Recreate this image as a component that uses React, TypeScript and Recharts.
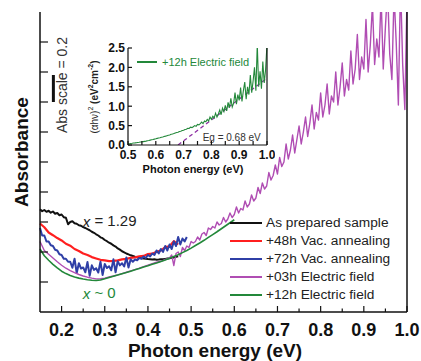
import { Label, Legend, Line, LineChart, ReferenceDot, ReferenceLine, XAxis, YAxis } from 'recharts'

const FONT = '"Liberation Sans", Arial, Helvetica, sans-serif'

// absorbance spectra (arbitrary absorbance units, 0.2 per tick)
const asPrepared = [
  0.685, 0.672, 0.68, 0.668, 0.675, 0.662, 0.67, 0.655, 0.66, 0.645, 0.65, 0.632, 0.628, 0.585, 0.6, 0.605,
  0.592, 0.588, 0.578, 0.575, 0.566, 0.56, 0.552, 0.545, 0.535, 0.528, 0.518, 0.51, 0.498, 0.492, 0.48,
  0.472, 0.462, 0.455, 0.444, 0.436, 0.424, 0.416, 0.405, 0.398, 0.39, 0.384, 0.378, 0.373, 0.368, 0.364,
  0.362, 0.358, 0.357, 0.355, 0.353, 0.352, 0.35, 0.351, 0.349, 0.35, 0.352, 0.351, 0.354, 0.356, 0.358,
  0.361, 0.364, 0.368, 0.372,
] // 0.15 .. 0.47, step 0.005

const vac48 = [
  0.59, 0.565, 0.53, 0.512, 0.493, 0.477, 0.455, 0.442, 0.42, 0.407, 0.39, 0.38, 0.366, 0.357, 0.348, 0.344,
  0.339, 0.341, 0.344, 0.351, 0.354, 0.361, 0.364, 0.371, 0.374, 0.386, 0.389, 0.401, 0.41, 0.432, 0.438,
  0.472, 0.45,
] // 0.15 .. 0.47, step 0.01

const vac72 = [
  0.56, 0.51, 0.51, 0.47, 0.47, 0.445, 0.44, 0.415, 0.41, 0.385, 0.38, 0.355, 0.355, 0.335, 0.335, 0.295,
  0.355, 0.26, 0.325, 0.29, 0.297, 0.265, 0.333, 0.242, 0.311, 0.281, 0.292, 0.263, 0.335, 0.247, 0.32,
  0.293, 0.305, 0.278, 0.351, 0.265, 0.338, 0.311, 0.325, 0.304, 0.363, 0.297, 0.351, 0.335, 0.35, 0.345,
  0.36, 0.355, 0.37, 0.36, 0.38, 0.37, 0.39, 0.38, 0.41, 0.39, 0.42, 0.4, 0.44, 0.41, 0.45, 0.42, 0.47,
  0.44, 0.5, 0.45, 0.49, 0.47, 0.5,
] // 0.15 .. 0.49, step 0.005

const field03Low = [
  0.47, 0.41, 0.385, 0.36, 0.335, 0.312, 0.292, 0.276, 0.262, 0.25, 0.24, 0.232, 0.226, 0.221, 0.222, 0.226,
  0.233, 0.24, 0.248, 0.256, 0.265, 0.274, 0.283, 0.292, 0.302, 0.312, 0.322, 0.332, 0.338, 0.35,
] // 0.15 .. 0.44, step 0.01

const field03High = [
  0.36, 0.38, 0.31, 0.39, 0.4, 0.37, 0.43, 0.41, 0.44, 0.43, // 0.45 ..
  0.47, 0.46, 0.47, 0.5, 0.48, 0.52, 0.53, 0.51, 0.56, 0.55, // 0.50 ..
  0.57, 0.56, 0.6, 0.58, 0.59, 0.63, 0.6, 0.62, 0.66, 0.63, // 0.55 ..
  0.65, 0.7, 0.66, 0.69, 0.68, 0.74, 0.7, 0.72, 0.78, 0.74, // 0.60 ..
  0.76, 0.83, 0.79, 0.86, 0.82, 0.84, 0.93, 0.88, 0.91, 0.98, // 0.65 ..
  0.92, 1.03, 0.97, 1.0, 1.12, 1.02, 1.08, 1.18, 1.06, 1.15, // 0.70 ..
  1.24, 1.12, 1.2, 1.3, 1.17, 1.26, 1.38, 1.22, 1.33, 1.28, // 0.75 ..
  1.46, 1.3, 1.38, 1.52, 1.32, 1.44, 1.4, 1.6, 1.38, 1.5, // 0.80 ..
  1.66, 1.44, 1.55, 1.48, 1.74, 1.52, 1.62, 1.85, 1.55, 1.7, // 0.85 ..
  1.62, 1.95, 1.6, 1.78, 2.05, 1.65, 1.82, 1.7, 2.1, 1.62, // 0.90 ..
  1.9, 2.15, 1.72, 1.55, 2.12, 1.8, 1.38, 2.2, 1.65, 1.35, // 0.95 ..
  2.1, // 1.00
] // step 0.005

const field12 = [
  0.42, 0.375, 0.345, 0.318, 0.294, 0.272, 0.256, 0.243, 0.233, 0.226, 0.22, 0.215, 0.212, 0.21, 0.213,
  0.222, 0.23, 0.238, 0.246, 0.255, 0.263, 0.272, 0.281, 0.29, 0.3, 0.308, 0.318, 0.327, 0.337, 0.347,
  0.358, 0.37, 0.382, 0.396, 0.41, 0.426, 0.443, 0.46, 0.478, 0.497, 0.516, 0.535, 0.555, 0.575, 0.595,
  0.615,
] // 0.15 .. 0.60, step 0.01

// inset: (alpha h nu)^2 for +12h electric field, 0.5 .. 1.0 eV, step 0.005
const tauc12 = [
  0.03, 0.034, 0.04, 0.044, 0.05, 0.054, 0.06, 0.066, 0.07, 0.076, // 0.50 ..
  0.08, 0.088, 0.094, 0.1, 0.11, 0.116, 0.125, 0.134, 0.142, 0.152, // 0.55 ..
  0.16, 0.17, 0.18, 0.188, 0.2, 0.208, 0.22, 0.228, 0.24, 0.252, // 0.60 ..
  0.26, 0.275, 0.285, 0.296, 0.31, 0.322, 0.33, 0.35, 0.356, 0.372, // 0.65 ..
  0.38, 0.4, 0.405, 0.43, 0.425, 0.46, 0.45, 0.47, 0.5, 0.48, // 0.70 ..
  0.53, 0.52, 0.55, 0.59, 0.55, 0.62, 0.6, 0.66, 0.62, 0.72, // 0.75 ..
  0.66, 0.74, 0.7, 0.82, 0.72, 0.8, 0.9, 0.78, 0.95, 0.86, // 0.80 ..
  1.02, 0.88, 1.1, 0.96, 1.2, 0.98, 1.08, 1.35, 1.05, 1.3, // 0.85 ..
  1.15, 1.48, 1.12, 1.4, 1.62, 1.18, 1.5, 1.3, 1.8, 1.35, // 0.90 ..
  1.65, 2.0, 1.4, 2.6, 1.5, 1.9, 1.45, 2.15, 1.6, 1.95, // 0.95 ..
  2.6, // 1.00
]
const taucFitE = [0.68, 1.0]
const taucFitV = [0, 1.72]

const xTicks = [0.2, 0.25, 0.3, 0.35, 0.4, 0.45, 0.5, 0.55, 0.6, 0.65, 0.7, 0.75, 0.8, 0.85, 0.9, 0.95, 1.0]
const yTicks = [0.2, 0.4, 0.6, 0.8, 1.0, 1.2, 1.4, 1.6, 1.8]
const insetXTicks = [0.5, 0.55, 0.6, 0.65, 0.7, 0.75, 0.8, 0.85, 0.9, 0.95, 1.0]
const insetYTicks = [0, 0.5, 1.0, 1.5, 2.0, 2.5]

const toPts = (start: number, step: number, ys: number[]) =>
  ys.map((v, i) => ({ e: +(start + i * step).toFixed(3), v }))

const series = [
  { name: 'As prepared sample', color: '#111111', width: 2, data: toPts(0.15, 0.005, asPrepared) },
  { name: '+48h Vac. annealing', color: '#ff1f1f', width: 2.2, data: toPts(0.15, 0.01, vac48) },
  { name: '+72h Vac. annealing', color: '#2f3fa6', width: 2, data: toPts(0.15, 0.005, vac72) },
  {
    name: '+03h Electric field',
    color: '#b04db3',
    width: 1.4,
    data: [...toPts(0.15, 0.01, field03Low), ...toPts(0.45, 0.005, field03High)],
  },
  { name: '+12h Electric field', color: '#23883a', width: 1.6, data: toPts(0.15, 0.01, field12) },
]

const insetData = toPts(0.5, 0.005, tauc12)
const fitData = taucFitE.map((e, i) => ({ e, v: taucFitV[i] }))

const isMajor = (v: number, unit: number) => Math.abs(v / unit - Math.round(v / unit)) < 1e-6

function XTick({ x, y, payload, unit, dir, major, minor, size, dy }: any) {
  const v = payload.value
  const big = isMajor(v, unit)
  return (
    <g>
      <line x1={x} x2={x} y1={y} y2={y + dir * (big ? major : minor)} stroke="#111" strokeWidth={1.2} />
      {size && big ? (
        <text x={x} y={y + dy} textAnchor="middle" fontFamily={FONT} fontSize={size} fontWeight="bold" fill="#111">
          {v.toFixed(1)}
        </text>
      ) : null}
    </g>
  )
}

function YTick({ x, y, payload, dir, len, size, dx }: any) {
  return (
    <g>
      <line x1={x} x2={x + dir * len} y1={y} y2={y} stroke="#111" strokeWidth={1.2} />
      {size ? (
        <text x={x - dx} y={y + size * 0.36} textAnchor="end" fontFamily={FONT} fontSize={size} fontWeight="bold" fill="#111">
          {payload.value.toFixed(1)}
        </text>
      ) : null}
    </g>
  )
}

const note = (render: (x: number, y: number) => any) => ({ viewBox }: any) => render(viewBox.x, viewBox.y)

function MainLegend() {
  return (
    <div style={{ fontFamily: FONT, fontSize: 13.7, color: '#222', lineHeight: '18px' }}>
      {series.map((s) => (
        <div key={s.name} style={{ display: 'flex', alignItems: 'center', height: 18 }}>
          <div style={{ width: 32, height: 1.5, background: s.color, marginRight: 4 }} />
          <span>{s.name}</span>
        </div>
      ))}
    </div>
  )
}

function InsetLegend() {
  return (
    <div style={{ display: 'flex', alignItems: 'center', fontFamily: FONT, fontSize: 11, color: '#23883a' }}>
      <div style={{ width: 20, height: 1.3, background: '#23883a', marginRight: 5 }} />
      <span>+12h Electric field</span>
    </div>
  )
}

const axisStroke = { stroke: '#111', strokeWidth: 1.5 }

export default function App() {
  return (
    <div style={{ position: 'relative', width: 421, height: 361, background: '#fff' }}>
      <style>{'body{margin:0}'}</style>
      <LineChart width={421} height={361} margin={{ top: 12, right: 0, bottom: 0, left: 0 }}>
        <XAxis
          xAxisId="b"
          dataKey="e"
          type="number"
          domain={[0.15, 1.0]}
          ticks={xTicks}
          interval={0}
          height={49}
          tickSize={0}
          tickMargin={0}
          tickLine={false}
          axisLine={axisStroke}
          tick={<XTick unit={0.1} dir={-1} major={6} minor={3.5} size={18} dy={24} />}
        >
          <Label
            content={note((x, y) => (
              <text x={x + 175} y={y + 44.5} textAnchor="middle" fontFamily={FONT} fontSize={19} fontWeight="bold" fill="#111">
                Photon energy (eV)
              </text>
            ))}
          />
        </XAxis>
        <XAxis
          xAxisId="t"
          orientation="top"
          dataKey="e"
          type="number"
          domain={[0.15, 1.0]}
          ticks={xTicks}
          interval={0}
          height={0}
          tickSize={0}
          tickMargin={0}
          tickLine={false}
          axisLine={axisStroke}
          tick={<XTick unit={0.1} dir={1} major={6} minor={4} />}
        />
        <YAxis
          yAxisId="l"
          type="number"
          domain={[0, 2]}
          allowDataOverflow
          ticks={yTicks}
          interval={0}
          width={40}
          tickSize={0}
          tickMargin={0}
          tickLine={false}
          axisLine={axisStroke}
          tick={<YTick dir={1} len={8} />}
        >
          <Label
            content={() => (
              <text
                x={21}
                y={152}
                transform="rotate(-90 21 152)"
                textAnchor="middle"
                dominantBaseline="central"
                fontFamily={FONT}
                fontSize={19}
                fontWeight="bold"
                fill="#111"
              >
                Absorbance
              </text>
            )}
          />
        </YAxis>
        <YAxis
          yAxisId="r"
          orientation="right"
          type="number"
          domain={[0, 2]}
          ticks={yTicks}
          interval={0}
          width={14}
          tickSize={0}
          tickMargin={0}
          tickLine={false}
          axisLine={axisStroke}
          tick={<YTick dir={-1} len={8} />}
        />

        {series.map((s) => (
          <Line
            key={s.name}
            xAxisId="b"
            yAxisId="l"
            data={s.data}
            dataKey="v"
            name={s.name}
            type="linear"
            dot={false}
            stroke={s.color}
            strokeWidth={s.width}
            strokeLinejoin="round"
            isAnimationActive={false}
          />
        ))}

        <ReferenceLine
          xAxisId="b"
          yAxisId="l"
          segment={[{ x: 0.181, y: 1.4 }, { x: 0.181, y: 1.58 }]}
          stroke="#111"
          strokeWidth={3}
        />
        <ReferenceDot
          xAxisId="b"
          yAxisId="l"
          x={0.201}
          y={1.513}
          r={0}
          fill="none"
          stroke="none"
          label={note((x, y) => (
            <text
              x={x}
              y={y}
              transform={`rotate(-90 ${x} ${y})`}
              textAnchor="middle"
              dominantBaseline="central"
              fontFamily={FONT}
              fontSize={14}
              fill="#333"
            >
              Abs scale = 0.2
            </text>
          ))}
        />
        <ReferenceDot
          xAxisId="b"
          yAxisId="l"
          x={0.249}
          y={0.607}
          r={0}
          fill="none"
          stroke="none"
          label={note((x, y) => (
            <text x={x} y={y} dominantBaseline="central" fontFamily={FONT} fontSize={15} fill="#222">
              <tspan fontStyle="italic">x</tspan> = 1.29
            </text>
          ))}
        />
        <ReferenceDot
          xAxisId="b"
          yAxisId="l"
          x={0.249}
          y={0.127}
          r={0}
          fill="none"
          stroke="none"
          label={note((x, y) => (
            <text x={x} y={y} dominantBaseline="central" fontFamily={FONT} fontSize={15} fill="#23883a">
              <tspan fontStyle="italic">x</tspan> ~ 0
            </text>
          ))}
        />
        <Legend
          layout="vertical"
          align="center"
          verticalAlign="middle"
          wrapperStyle={{ left: 230, top: 214, width: 'auto' }}
          content={() => <MainLegend />}
        />
      </LineChart>

      <div style={{ position: 'absolute', left: 80, top: 40 }}>
        <LineChart width={195} height={145} margin={{ top: 8, right: 0, bottom: 0, left: 0 }}>
          <XAxis
            xAxisId="b"
            dataKey="e"
            type="number"
            domain={[0.5, 1.0]}
            ticks={insetXTicks}
            interval={0}
            height={40}
            tickSize={0}
            tickMargin={0}
            tickLine={false}
            axisLine={{ stroke: '#111', strokeWidth: 1.2 }}
            tick={<XTick unit={0.1} dir={-1} major={4} minor={4} size={12} dy={14} />}
          >
            <Label
              content={note((x, y) => (
                <text x={x + 65} y={y + 28} textAnchor="middle" fontFamily={FONT} fontSize={11} fontWeight="bold" fill="#111">
                  Photon energy (eV)
                </text>
              ))}
            />
          </XAxis>
          <XAxis
            xAxisId="t"
            orientation="top"
            dataKey="e"
            type="number"
            domain={[0.5, 1.0]}
            ticks={insetXTicks}
            interval={0}
            height={0}
            tickSize={0}
            tickMargin={0}
            tickLine={false}
            axisLine={{ stroke: '#111', strokeWidth: 1.2 }}
            tick={<XTick unit={0.1} dir={1} major={4} minor={4} />}
          />
          <YAxis
            yAxisId="l"
            type="number"
            domain={[0, 2.5]}
            allowDataOverflow
            ticks={insetYTicks}
            interval={0}
            width={48}
            tickSize={0}
            tickMargin={0}
            tickLine={false}
            axisLine={{ stroke: '#111', strokeWidth: 1.2 }}
            tick={<YTick dir={1} len={4} size={12} dx={3} />}
          >
            <Label
              content={() => (
                <text
                  x={14}
                  y={57}
                  transform="rotate(-90 14 57)"
                  textAnchor="middle"
                  dominantBaseline="central"
                  fontFamily={FONT}
                  fontSize={10}
                  fill="#222"
                >
                  (αhν)<tspan fontSize={7} dy={-4}>2</tspan>
                  <tspan dy={4} fontWeight="bold"> (eV</tspan>
                  <tspan fontSize={7} dy={-4} fontWeight="bold">2</tspan>
                  <tspan dy={4} fontWeight="bold">cm</tspan>
                  <tspan fontSize={7} dy={-4} fontWeight="bold">-2</tspan>
                  <tspan dy={4} fontWeight="bold">)</tspan>
                </text>
              )}
            />
          </YAxis>
          <YAxis
            yAxisId="r"
            orientation="right"
            type="number"
            domain={[0, 2.5]}
            ticks={insetYTicks}
            interval={0}
            width={8}
            tickSize={0}
            tickMargin={0}
            tickLine={false}
            axisLine={{ stroke: '#111', strokeWidth: 1.2 }}
            tick={<YTick dir={-1} len={4} />}
          />
          <Line
            xAxisId="b"
            yAxisId="l"
            data={fitData}
            dataKey="v"
            type="linear"
            dot={false}
            stroke="#8e2fa3"
            strokeWidth={1.3}
            strokeDasharray="4 3"
            isAnimationActive={false}
          />
          <Line
            xAxisId="b"
            yAxisId="l"
            data={insetData}
            dataKey="v"
            name="+12h Electric field"
            type="linear"
            dot={false}
            stroke="#23883a"
            strokeWidth={1.1}
            isAnimationActive={false}
          />
          <ReferenceDot
            xAxisId="b"
            yAxisId="l"
            x={0.873}
            y={0.206}
            r={0}
            fill="none"
            stroke="none"
            label={note((x, y) => (
              <text x={x} y={y} textAnchor="middle" dominantBaseline="central" fontFamily={FONT} fontSize={10} fill="#333">
                Eg = 0.68 eV
              </text>
            ))}
          />
          <Legend
            layout="vertical"
            align="center"
            verticalAlign="middle"
            wrapperStyle={{ left: 57, top: 16, width: 'auto' }}
            content={() => <InsetLegend />}
          />
        </LineChart>
      </div>
    </div>
  )
}
